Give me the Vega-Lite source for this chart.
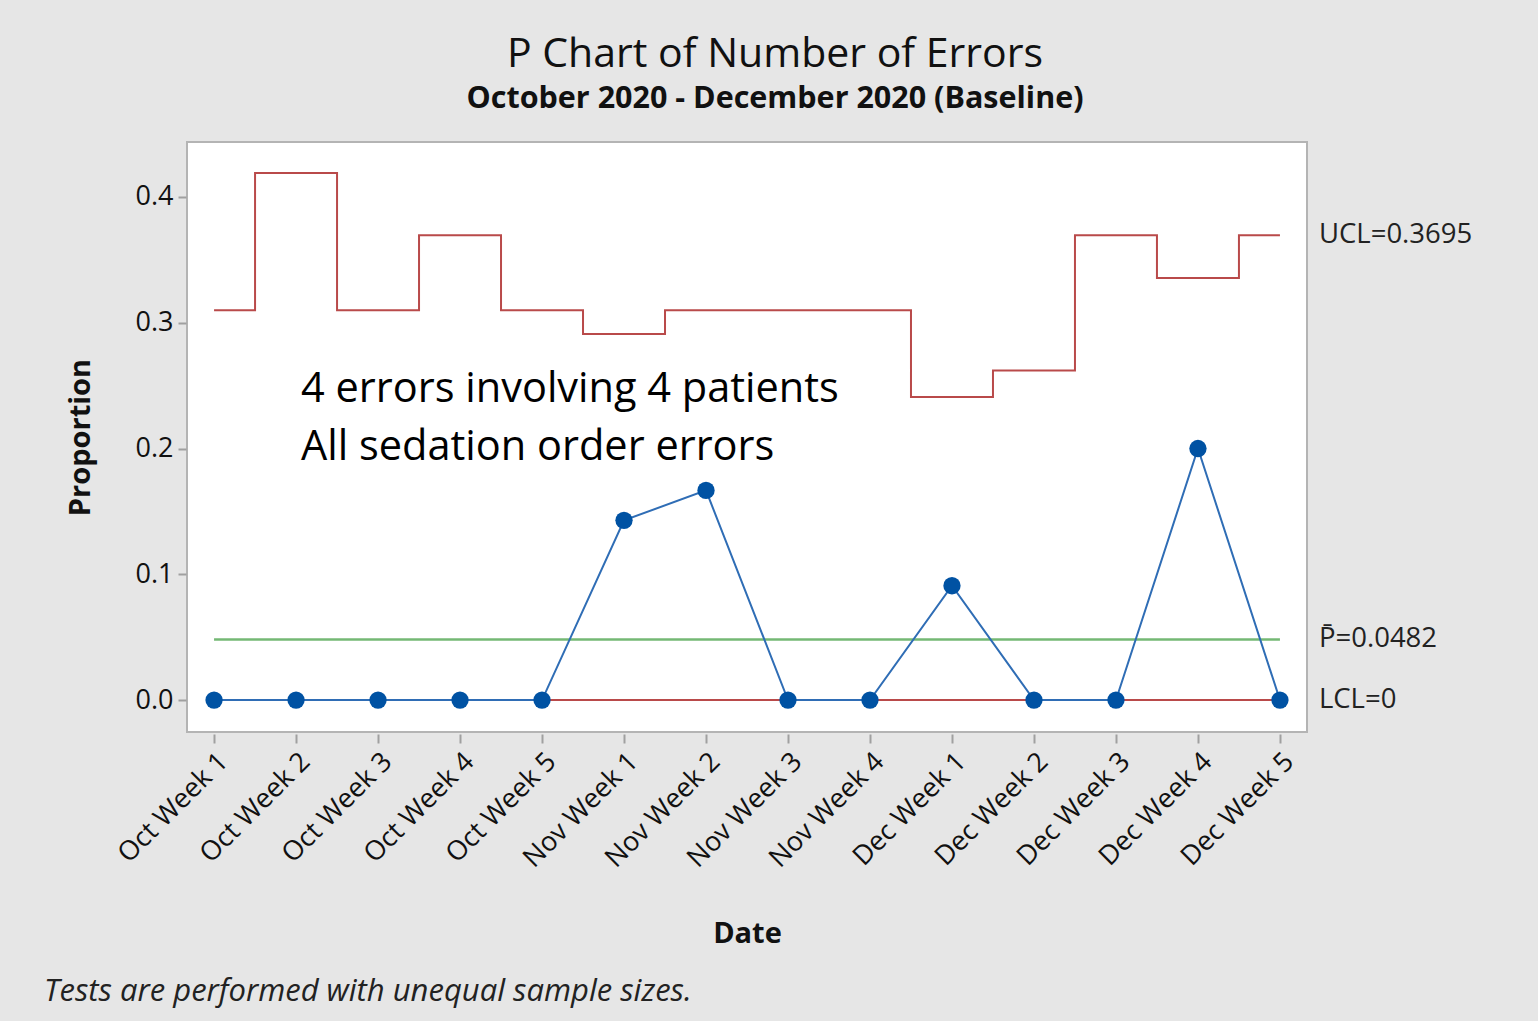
{
  "$schema": "https://vega.github.io/schema/vega-lite/v6.json",
  "width": 1120,
  "height": 590,
  "autosize": {"type": "none"},
  "padding": {"left": 187, "top": 142, "right": 231, "bottom": 289},
  "background": "#e6e6e6",
  "config": {
    "font": "Open Sans",
    "view": {"fill": "white", "stroke": "#b4b4b4", "strokeWidth": 2}
  },
  "title": {
    "text": "P Chart of Number of Errors",
    "subtitle": "October 2020 - December 2020 (Baseline)",
    "anchor": "middle",
    "dx": 28,
    "offset": 27,
    "font": "Open Sans",
    "fontSize": 41,
    "fontWeight": "normal",
    "color": "#111111",
    "subtitleFont": "Open Sans",
    "subtitleFontSize": 30.5,
    "subtitleFontWeight": "bold",
    "subtitleColor": "#111111",
    "subtitlePadding": 8
  },
  "datasets": {
    "weeks": [
      {"week": "Oct Week 1", "p": 0, "ucl": 0.31, "lcl": 0, "cl": 0.0482},
      {"week": "Oct Week 2", "p": 0, "ucl": 0.419, "lcl": 0, "cl": 0.0482},
      {"week": "Oct Week 3", "p": 0, "ucl": 0.31, "lcl": 0, "cl": 0.0482},
      {"week": "Oct Week 4", "p": 0, "ucl": 0.3695, "lcl": 0, "cl": 0.0482},
      {"week": "Oct Week 5", "p": 0, "ucl": 0.31, "lcl": 0, "cl": 0.0482},
      {"week": "Nov Week 1", "p": 0.1429, "ucl": 0.291, "lcl": 0, "cl": 0.0482},
      {"week": "Nov Week 2", "p": 0.1667, "ucl": 0.31, "lcl": 0, "cl": 0.0482},
      {"week": "Nov Week 3", "p": 0, "ucl": 0.31, "lcl": 0, "cl": 0.0482},
      {"week": "Nov Week 4", "p": 0, "ucl": 0.31, "lcl": 0, "cl": 0.0482},
      {"week": "Dec Week 1", "p": 0.0909, "ucl": 0.241, "lcl": 0, "cl": 0.0482},
      {"week": "Dec Week 2", "p": 0, "ucl": 0.262, "lcl": 0, "cl": 0.0482},
      {"week": "Dec Week 3", "p": 0, "ucl": 0.3695, "lcl": 0, "cl": 0.0482},
      {"week": "Dec Week 4", "p": 0.2, "ucl": 0.3356, "lcl": 0, "cl": 0.0482},
      {"week": "Dec Week 5", "p": 0, "ucl": 0.3695, "lcl": 0, "cl": 0.0482}
    ],
    "limits": [
      {"week": "Dec Week 5", "y": 0.3695, "label": "UCL=0.3695"},
      {"week": "Dec Week 5", "y": 0.0482, "label": "P\u0304=0.0482"},
      {"week": "Dec Week 5", "y": 0, "label": "LCL=0"}
    ],
    "notes": [
      {"week": "Oct Week 2", "y": 0.2465, "label": "4 errors involving 4 patients"},
      {"week": "Oct Week 2", "y": 0.2004, "label": "All sedation order errors"}
    ],
    "foot": [
      {"week": "Oct Week 1", "y": 0, "label": "Tests are performed with unequal sample sizes."}
    ]
  },
  "encoding": {
    "x": {
      "field": "week",
      "type": "ordinal",
      "sort": null,
      "scale": {"type": "point", "padding": 0.33},
      "axis": {
        "title": "Date",
        "titleFontSize": 29,
        "titleFontWeight": "bold",
        "titleColor": "#111111",
        "titlePadding": 48,
        "labelAngle": -45,
        "labelFontSize": 27,
        "labelColor": "#111111",
        "labelPadding": 5,
        "domain": false,
        "ticks": true,
        "tickColor": "#a0a0a0",
        "tickSize": 9,
        "tickWidth": 2,
        "grid": false,
        "offset": 2
      }
    }
  },
  "layer": [
    {
      "data": {"name": "weeks"},
      "mark": {"type": "line", "interpolate": "step", "color": "#b94a4a", "strokeWidth": 2},
      "encoding": {
        "y": {
          "field": "ucl",
          "type": "quantitative",
          "scale": {"domain": [-0.0254, 0.4437], "nice": false, "zero": false},
          "axis": {
            "title": "Proportion",
            "titleFontSize": 29,
            "titleFontWeight": "bold",
            "titleColor": "#111111",
            "titlePadding": 40,
            "values": [0, 0.1, 0.2, 0.3, 0.4],
            "format": ".1f",
            "labelFontSize": 27,
            "labelColor": "#111111",
            "labelPadding": 5,
            "domain": false,
            "tickColor": "#a0a0a0",
            "tickSize": 8,
            "tickWidth": 2,
            "grid": false,
            "offset": 1
          }
        }
      }
    },
    {
      "data": {"name": "weeks"},
      "mark": {"type": "line", "color": "#b94a4a", "strokeWidth": 2},
      "encoding": {"y": {"field": "lcl", "type": "quantitative"}}
    },
    {
      "data": {"name": "weeks"},
      "mark": {"type": "line", "color": "#74b874", "strokeWidth": 2.5},
      "encoding": {"y": {"field": "cl", "type": "quantitative"}}
    },
    {
      "data": {"name": "weeks"},
      "mark": {"type": "line", "color": "#2f6db5", "strokeWidth": 2, "point": {"filled": true, "size": 300, "color": "#0052a3", "opacity": 1}},
      "encoding": {"y": {"field": "p", "type": "quantitative"}}
    },
    {
      "data": {"name": "limits"},
      "mark": {"type": "text", "align": "left", "baseline": "middle", "dx": 39, "fontSize": 27.5, "color": "#222222", "font": "Open Sans"},
      "encoding": {
        "y": {"field": "y", "type": "quantitative"},
        "text": {"field": "label"}
      }
    },
    {
      "data": {"name": "notes"},
      "mark": {"type": "text", "align": "left", "baseline": "middle", "dx": 5, "fontSize": 41.5, "color": "#000000", "font": "Open Sans"},
      "encoding": {
        "y": {"field": "y", "type": "quantitative"},
        "text": {"field": "label"}
      }
    },
    {
      "data": {"name": "foot"},
      "mark": {"type": "text", "align": "left", "baseline": "middle", "dx": -170, "dy": 292, "fontSize": 31, "fontStyle": "italic", "color": "#222222", "font": "Open Sans"},
      "encoding": {
        "y": {"field": "y", "type": "quantitative"},
        "text": {"field": "label"}
      }
    }
  ]
}
